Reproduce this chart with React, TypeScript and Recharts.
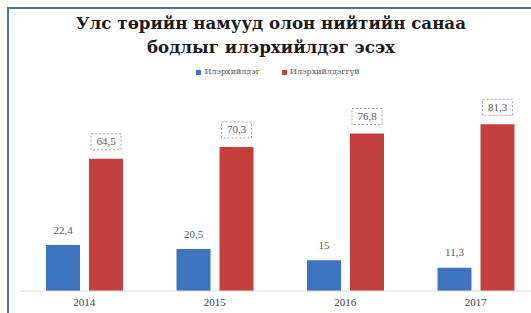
import React from 'react';
import { BarChart, Bar, XAxis, YAxis, LabelList } from 'recharts';

const years = ['2014', '2015', '2016', '2017'];
const expresses = [22.4, 20.5, 15, 11.3];
const notExpresses = [64.5, 70.3, 76.8, 81.3];
const seriesNames = ['Илэрхийлдэг', 'Илэрхийлдэггүй'];
const titleLines = ['Улс төрийн намууд олон нийтийн санаа', 'бодлыг илэрхийлдэг эсэх'];

const BLUE = '#3d74c0';
const RED = '#c4403d';
const SERIF = 'Liberation Serif, Times New Roman, serif';
const CYR_SERIF = '"DejaVu Serif", serif';

const data = years.map((y, i) => ({ year: y, a: expresses[i], b: notExpresses[i] }));

const fmt = (v: number) => String(v).replace('.', ',');

const PlainLabel = (props: any) => {
  const { x, y, width, value } = props;
  return (
    <text x={x + width / 2} y={y - 14} textAnchor="middle" dominantBaseline="middle"
      style={{ fontFamily: SERIF }} fontSize={11} fill="#595959">{fmt(value)}</text>
  );
};

const BoxLabel = (props: any) => {
  const { x, y, width, value } = props;
  const cx = x + width / 2;
  const cy = y - 17;
  return (
    <g>
      <rect x={cx - 15} y={cy - 8} width={30} height={16} fill="#ffffff"
        stroke="#8c8c8c" strokeWidth={0.8} strokeDasharray="2 2" />
      <text x={cx} y={cy + 1} textAnchor="middle" dominantBaseline="middle"
        style={{ fontFamily: SERIF }} fontSize={11} fill="#595959">{fmt(value)}</text>
    </g>
  );
};

export default function App() {
  return (
    <div style={{ position: 'fixed', left: 0, top: 0, width: 531, height: 313, overflow: 'hidden', background: '#ffffff', fontFamily: SERIF }}>
      <div style={{ position: 'absolute', left: 7, top: 7, right: 0, height: 2, background: '#4a74ad' }} />
      <div style={{ position: 'absolute', left: 7, top: 7, bottom: 0, width: 2, background: '#4a74ad' }} />
      <div style={{ position: 'absolute', left: 0, top: 0 }}>
        <BarChart width={560} height={313} data={data}
          margin={{ top: 86, right: 19, bottom: 0, left: 19 }}
          barGap={9} barSize={34}>
          <XAxis dataKey="year" height={22} tickLine={false} tickSize={0} tickMargin={7}
            axisLine={{ stroke: '#d9d9d9' }}
            tick={{ fontFamily: SERIF, fontSize: 11, fill: '#404040' }} />
          <YAxis hide domain={[0, 100]} />
          <Bar dataKey="a" name={seriesNames[0]} fill={BLUE} isAnimationActive={false}>
            <LabelList dataKey="a" content={PlainLabel} />
          </Bar>
          <Bar dataKey="b" name={seriesNames[1]} fill={RED} isAnimationActive={false}>
            <LabelList dataKey="b" content={BoxLabel} />
          </Bar>
        </BarChart>
      </div>
      <div style={{ position: 'absolute', left: 0, top: 11, width: 542, textAlign: 'center', fontFamily: CYR_SERIF, fontWeight: 'bold', fontSize: 16.7, lineHeight: '24px', color: '#1a1a1a' }}>
        <div>{titleLines[0]}</div>
        <div>{titleLines[1]}</div>
      </div>
      <div style={{ position: 'absolute', left: 0, top: 64, width: 556, display: 'flex', justifyContent: 'center', fontFamily: CYR_SERIF, fontSize: 8, lineHeight: '16px', color: '#595959' }}>
        <span style={{ display: 'flex', alignItems: 'center', marginRight: 22 }}>
          <span style={{ width: 5, height: 5, background: BLUE, display: 'inline-block', marginRight: 3 }} />
          {seriesNames[0]}
        </span>
        <span style={{ display: 'flex', alignItems: 'center' }}>
          <span style={{ width: 5, height: 5, background: RED, display: 'inline-block', marginRight: 3 }} />
          {seriesNames[1]}
        </span>
      </div>
    </div>
  );
}
